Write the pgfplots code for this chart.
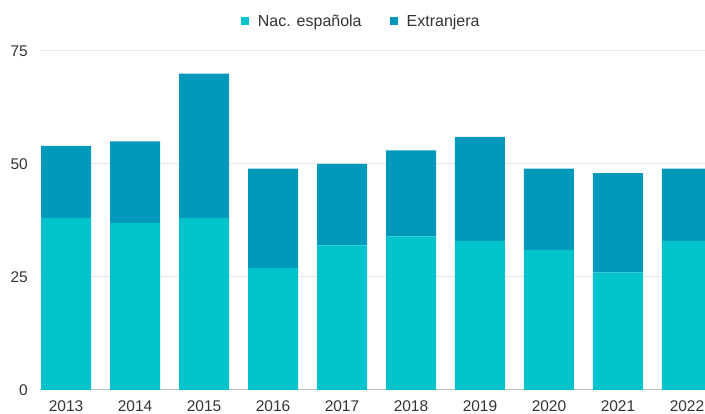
\documentclass[border=0pt]{standalone}
\usepackage{pgfplots}
\pgfplotsset{compat=1.18}
\usepackage{fontspec}
\setmainfont{Liberation Sans}
\definecolor{nac}{HTML}{00C3CC}
\definecolor{ext}{HTML}{0099BC}
\definecolor{grid}{HTML}{E6E6E6}
\definecolor{base}{HTML}{BDBDBD}
\definecolor{txt}{HTML}{333333}
\begin{document}
\begin{tikzpicture}[x=1pt,y=1pt]
\begin{axis}[
  at={(40pt,24pt)}, anchor=south west,
  scale only axis, width=665pt, height=339pt,
  ybar stacked, bar width=50pt,
  xmin=-0.377, xmax=9.261, ymin=0, ymax=75,
  xtick={0,...,9},
  xticklabels={2013,2014,2015,2016,2017,2018,2019,2020,2021,2022},
  ytick={0,25,50,75},
  xmajorgrids=false, ymajorgrids=true,
  y grid style={grid, line width=1pt},
  axis x line*=bottom, axis y line*=left,
  x axis line style={base, line width=1pt},
  y axis line style={draw=none},
  major tick length=0pt, tick style={draw=none},
  /pgf/number format/assume math mode=true,
  tick label style={font=\fontsize{15.5}{18}\selectfont, text=txt},
  yticklabel style={anchor=east, inner sep=0pt, xshift=-12pt},
  xticklabel style={anchor=north, inner sep=0pt, yshift=-10pt},
  legend columns=2,
  legend style={draw=none, fill=none, inner sep=0pt, at={(0.3018,1.0885)}, anchor=west,
    font=\fontsize{16}{18}\selectfont, text=txt,
    /tikz/every odd column/.append style={column sep=7pt},
    /tikz/every even column/.append style={column sep=26pt}},
  legend image code/.code={\fill[#1] (0pt,-4pt) rectangle (8pt,4pt);},
  clip=true,
]
\addplot+[draw=none, fill=nac] coordinates {(0,38) (1,37) (2,38) (3,27) (4,32) (5,34) (6,33) (7,31) (8,26) (9,33)};
\addlegendentry{Nac. española}
\addplot+[draw=none, fill=ext] coordinates {(0,16) (1,18) (2,32) (3,22) (4,18) (5,19) (6,23) (7,18) (8,22) (9,16)};
\addlegendentry{Extranjera}
\end{axis}
\pgfresetboundingbox
\path (0,0) rectangle (705,414);
\end{tikzpicture}
\end{document}
